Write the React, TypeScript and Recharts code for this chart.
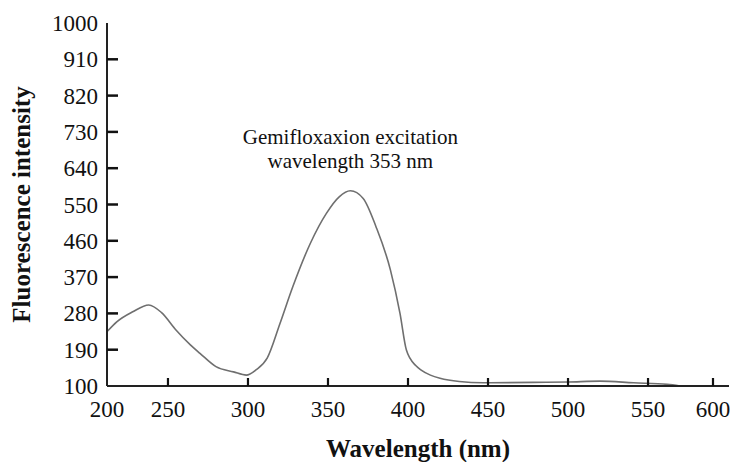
import React from "react";
import { LineChart, Line, XAxis, YAxis, ReferenceDot } from "recharts";

// Wavelength positions are given on the figure's own axis calibration
const wavelength = [212, 218, 228, 238, 246, 255, 264, 270, 280, 291, 299, 305, 312, 320, 328, 339, 349, 357, 364, 372, 380, 389, 395, 399, 405, 408, 414, 420, 432, 447, 478, 500, 520, 541, 562, 570];
const intensity = [235, 259, 284, 301, 282, 239, 202, 181, 148, 135, 127, 140, 169, 255, 346, 454, 528, 569, 584, 565, 495, 388, 280, 189, 150, 140, 127, 119, 111, 108, 109, 110, 112, 108, 104, 100];

const xTickValues = [211.9, 250, 300, 350, 400, 450, 500, 550, 590.6];
const xTickLabels = ["200", "250", "300", "350", "400", "450", "500", "550", "600"];
const yTicks = [100, 190, 280, 370, 460, 550, 640, 730, 820, 910, 1000];
const xDomain: [number, number] = [211.9, 600.6];
const yDomain: [number, number] = [100, 1000];

const annotationLines = ["Gemifloxaxion excitation", "wavelength 353 nm"];
const annotationAt = { x: 364, y: 700 };

const data = wavelength.map((w, i) => ({ w, v: intensity[i] }));

const SERIF = "Liberation Serif, serif";
const css = `.rs-serif{font-family:"Liberation Serif",serif !important;font-weight:400;font-style:normal;}
.rs-bold{font-family:"Liberation Serif",serif !important;font-weight:700;}`;

const XTick = (props: any) => {
  const { x, y, payload, index } = props;
  const idx = xTickValues.indexOf(payload.value);
  const label = idx >= 0 ? xTickLabels[idx] : String(payload.value);
  return (
    <g>
      {index !== 0 && (
        <line x1={x} x2={x} y1={y} y2={y - 8} stroke="#111" strokeWidth={2.2} />
      )}
      <text className="rs-serif" x={x} y={y + 31} textAnchor="middle" fontFamily={SERIF} fontWeight="normal" fontSize={23} fill="#111">
        {label}
      </text>
    </g>
  );
};

const YTick = (props: any) => {
  const { x, y, payload, index } = props;
  const last = index === yTicks.length - 1;
  return (
    <g>
      {index !== 0 && !last && (
        <line x1={x} x2={x + 11} y1={y} y2={y} stroke="#111" strokeWidth={2.5} />
      )}
      <text className="rs-serif" x={x - 9} y={y + 8} textAnchor="end" fontFamily={SERIF} fontWeight="normal" fontSize={23} fill="#111">
        {payload.value}
      </text>
    </g>
  );
};

const YLabel = (props: any) => {
  const vb = props.viewBox || {};
  const cy = vb.y + vb.height / 2;
  const x = 30;
  return (
    <text
      className="rs-bold"
      x={x}
      y={cy}
      transform={`rotate(-90, ${x}, ${cy})`}
      textAnchor="middle"
      fontFamily={SERIF}
      fontWeight="bold"
      fontSize={25}
      fill="#111"
    >
      Fluorescence intensity
    </text>
  );
};

const XLabel = (props: any) => {
  const vb = props.viewBox || {};
  const cx = vb.x + vb.width / 2;
  return (
    <text className="rs-bold" x={cx} y={vb.y + 71} textAnchor="middle" fontFamily={SERIF} fontWeight="bold" fontSize={25} fill="#111">
      Wavelength (nm)
    </text>
  );
};

const Annotation = (props: any) => {
  const vb = props.viewBox || {};
  const cx = vb.x + (vb.width || 0) / 2;
  const cy = vb.y + (vb.height || 0) / 2;
  return (
    <g>
      <text className="rs-serif" x={cx} y={cy} textAnchor="middle" fontFamily={SERIF} fontWeight="normal" fontSize={21} fill="#111">
        {annotationLines[0]}
      </text>
      <text className="rs-serif" x={cx} y={cy + 24} textAnchor="middle" fontFamily={SERIF} fontWeight="normal" fontSize={21} fill="#111">
        {annotationLines[1]}
      </text>
    </g>
  );
};

export default function App() {
  return (
    <div style={{ position: "absolute", left: 0, top: 0, background: "#fff", fontFamily: "'Liberation Serif', serif" }}>
      <style>{css}</style>
      <LineChart width={733} height={462} data={data} margin={{ top: 23, right: 4, bottom: 0, left: 0 }}>
        <XAxis
          dataKey="w"
          type="number"
          domain={xDomain}
          ticks={xTickValues}
          allowDataOverflow
          height={76}
          tickSize={0}
          tickMargin={0}
          tickLine={false}
          tick={<XTick />}
          axisLine={{ stroke: "#222", strokeWidth: 2 }}
          label={<XLabel />}
        />
        <XAxis
          xAxisId="top"
          orientation="top"
          type="number"
          domain={xDomain}
          height={0}
          tick={false}
          tickLine={false}
          axisLine={{ stroke: "#7a7a7a", strokeWidth: 1.6 }}
        />
        <YAxis
          type="number"
          domain={yDomain}
          ticks={yTicks}
          allowDataOverflow
          width={107}
          tickSize={0}
          tickMargin={0}
          tickLine={false}
          tick={<YTick />}
          axisLine={{ stroke: "#222", strokeWidth: 2 }}
          label={<YLabel />}
        />
        <YAxis
          yAxisId="right"
          orientation="right"
          type="number"
          domain={yDomain}
          width={0}
          tick={false}
          tickLine={false}
          axisLine={{ stroke: "#7a7a7a", strokeWidth: 1.6 }}
        />
        <Line
          type="monotone"
          dataKey="v"
          stroke="#6f6f6f"
          strokeWidth={1.6}
          dot={false}
          isAnimationActive={false}
        />
        <ReferenceDot
          x={annotationAt.x}
          y={annotationAt.y}
          r={1}
          fill="none"
          stroke="none"
          label={<Annotation />}
        />
      </LineChart>
    </div>
  );
}
